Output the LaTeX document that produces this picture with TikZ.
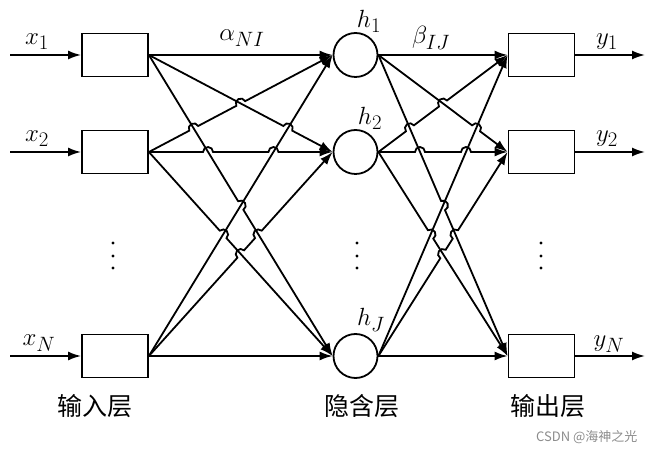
\documentclass[tikz,border=0pt]{standalone}
\usepackage{fontspec}
\newfontfamily\cjk{Noto Sans CJK SC}
\usetikzlibrary{arrows.meta,calc}

% radius of the line jumps
\newcommand{\hr}{5pt}
% arrow from #1 to #2 that jumps at the fractions #3
\newcommand{\hopto}[3]{%
  \draw[link] let \p1=($(#2)-(#1)$), \n1={atan2(\y1,\x1)} in (#1)
    \foreach \t in {#3} {-- ($(#1)!\t!(#2)!\hr!(#1)$) arc[start angle=\n1+180, end angle=\n1, radius=\hr]}
    -- (#2);}

\begin{document}
\begin{tikzpicture}[x=1pt,y=1pt,
    font=\fontsize{24.88}{28}\selectfont,
    box/.style={draw, rectangle, line width=1.8pt, minimum width=66pt, minimum height=43pt, inner sep=0pt},
    neuron/.style={draw, circle, line width=1.8pt, minimum size=44pt, inner sep=0pt},
    link/.style={-{Latex[length=13pt,width=9pt]}, line width=1.8pt},
    layer/.style={font=\cjk\fontsize{25}{28}\selectfont}]
  \useasboundingbox (0,0) rectangle (650,452);

  % input layer
  \node[box] (i1) at (115,397) {};
  \node[box] (i2) at (115,300) {};
  \node[box] (iN) at (115,96) {};
  % hidden layer
  \node[neuron] (h1) at (355.5,397) {};
  \node[neuron] (h2) at (355.5,300) {};
  \node[neuron] (hJ) at (355.5,96) {};
  % output layer
  \node[box] (o1) at (541.5,397) {};
  \node[box] (o2) at (541.5,300) {};
  \node[box] (oN) at (541.5,96) {};

  \coordinate (s1) at (10,397);
  \coordinate (s2) at (10,300);
  \coordinate (sN) at (10,96);
  \coordinate (e1) at (645,397);
  \coordinate (e2) at (645,300);
  \coordinate (eN) at (645,96);

  \node (x1) at (37,410) {$x_1$};
  \node (x2) at (37,313) {$x_2$};
  \node (xN) at (39,109) {$x_N$};
  \node (y1) at (607,410) {$y_1$};
  \node (y2) at (607,313) {$y_2$};
  \node (yN) at (609,108) {$y_N$};
  \node (lh1) at (369,431) {$h_1$};
  \node (lh2) at (370,334) {$h_2$};
  \node (lhJ) at (371,132) {$h_J$};
  \node (alpha) at (242,414) {$\alpha_{NI}$};
  \node (beta) at (431,414) {$\beta_{IJ}$};

  \foreach \px in {113,357,541}
    \foreach \py in {209,196,184}
      \fill (\px,\py) circle (1.6);

  \node[layer] (lin) at (95,46) {输入层};
  \node[layer] (lhid) at (362,46) {隐含层};
  \node[layer] (lout) at (548,46) {输出层};
  \node[font=\cjk\fontsize{13}{15}\selectfont, text=black!45, anchor=east] (mark) at (641,15) {CSDN @海神之光};

  \begin{scope}
    \draw[link] (s1) -- (i1);
    \draw[link] (s2) -- (i2);
    \draw[link] (sN) -- (iN);
    \draw[link] (o1) -- (e1);
    \draw[link] (o2) -- (e2);
    \draw[link] (oN) -- (eN);
  \end{scope}

  % input -> hidden
  \draw[link] (i1.east) -- (h1.west);
  \hopto{i1.east}{h2.west}{0.756}
  \hopto{i1.east}{hJ.west}{0.5}
  \hopto{i2.east}{h1.west}{0.244,0.5}
  \hopto{i2.east}{h2.west}{0.322,0.678}
  \hopto{i2.east}{hJ.west}{0.404}
  \draw[link] (iN.east) -- (h1.west);
  \hopto{iN.east}{h2.west}{0.5,0.596}
  \draw[link] (iN.east) -- (hJ.west);

  % hidden -> output
  \draw[link] (h1.east) -- (o1.west);
  \hopto{h1.east}{o2.west}{0.756}
  \hopto{h1.east}{oN.west}{0.5}
  \hopto{h2.east}{o1.west}{0.244,0.5}
  \hopto{h2.east}{o2.west}{0.322,0.678}
  \hopto{h2.east}{oN.west}{0.404}
  \draw[link] (hJ.east) -- (o1.west);
  \hopto{hJ.east}{o2.west}{0.5,0.596}
  \draw[link] (hJ.east) -- (oN.west);
\end{tikzpicture}
\end{document}
